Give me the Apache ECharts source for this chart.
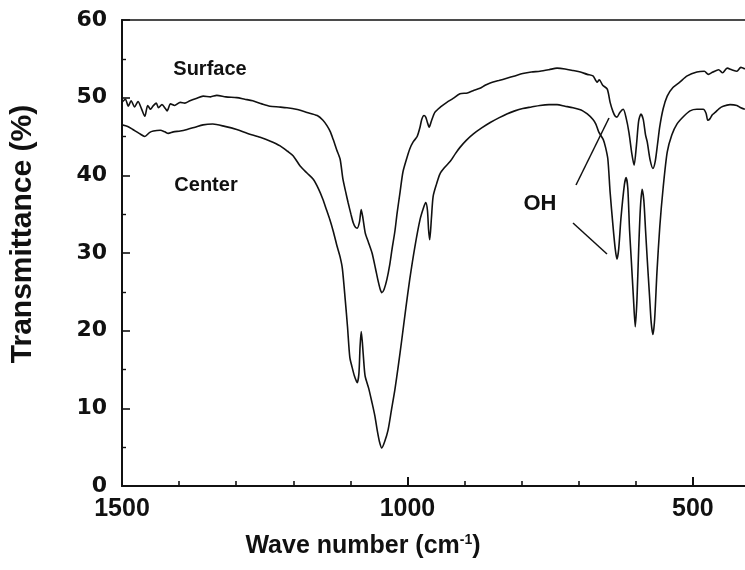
<!DOCTYPE html>
<html>
<head>
<meta charset="utf-8">
<script src="https://cdn.jsdelivr.net/npm/echarts@6/dist/echarts.min.js"></script>
<style>html,body{margin:0;padding:0;background:#fff;}#chart{width:745px;height:570px;}</style>
</head>
<body>
<div id="chart"></div>
<script>
// Wave numbers (cm-1) and transmittance (%)
const surfaceWn = [1500,1494,1489,1484,1478,1472,1466,1460,1455,1450,1446,1440,1436,1430,1424,1421,1415,1408,1398,1390,1381,1370,1358,1345,1334,1318,1299,1285,1271,1255,1241,1225,1211,1195,1176,1158,1148,1141,1135,1130,1124,1118,1113,1108,1104,1099,1095,1091,1088,1084,1081,1078,1074,1068,1062,1056,1052,1048,1045,1041,1036,1031,1027,1022,1018,1013,1008,1002,996,990,983,978,975,971,968,965,962,958,952,942,931,920,908,895,885,873,864,855,840,826,812,798,783,768,752,738,724,710,697,685,675,670,668,664,658,650,645,640,636,633,628,622,617,612,607,603,599,595,591,587,583,580,575,570,566,562,558,552,545,535,523,510,493,480,473,465,455,448,440,432,423,416,409];
const surfaceT  = [49.4,49.8,48.9,49.6,48.8,49.5,48.6,47.6,49.0,48.5,48.9,49.3,48.7,49.1,48.6,48.3,49.2,49.0,49.4,49.3,49.6,49.9,50.2,50.1,50.3,50.1,50.0,49.8,49.6,49.2,48.9,48.8,48.7,48.5,48.1,47.7,47.1,46.4,45.6,44.6,43.3,42.1,39.5,37.8,36.5,35.0,33.9,33.3,33.2,34.0,35.6,34.5,32.6,31.3,30.0,28.0,26.6,25.4,24.9,25.3,26.6,28.5,30.5,32.8,35.2,37.8,40.4,42.0,43.4,44.3,45.0,46.2,47.2,47.7,47.5,46.8,46.2,47.0,48.1,48.8,49.4,49.9,50.5,50.6,50.9,51.2,51.6,51.9,52.2,52.5,52.8,53.1,53.3,53.4,53.6,53.8,53.7,53.5,53.3,53.0,52.8,52.2,52.0,52.3,51.6,51.1,49.4,48.2,47.6,47.5,48.1,48.5,47.4,45.5,42.8,41.3,43.8,47.0,47.9,47.2,45.2,44.3,42.0,40.9,41.8,44.0,46.3,48.6,50.2,51.3,52.0,52.8,53.3,53.4,53.0,53.3,53.6,53.2,53.8,53.6,53.4,53.9,53.7];

const centerWn = [1500,1490,1481,1470,1460,1452,1445,1433,1425,1419,1410,1398,1386,1372,1358,1341,1320,1299,1280,1258,1240,1223,1210,1200,1188,1176,1165,1156,1148,1142,1136,1130,1123,1118,1114,1109,1105,1101,1097,1093,1088,1085,1083,1081,1079,1076,1074,1068,1062,1057,1053,1049,1045,1040,1034,1028,1022,1016,1010,1003,996,987,978,972,968,965,963,961,958,955,949,943,935,925,916,908,897,885,870,855,840,826,812,798,783,768,752,738,724,710,700,693,685,675,670,665,657,653,649,645,640,636,633,630,626,620,617,614,611,608,604,601,598,595,592,589,586,583,580,576,573,570,567,563,558,552,545,537,528,516,505,493,482,477,474,470,466,461,454,447,435,423,416,409];
const centerT  = [46.5,46.3,45.9,45.4,45.0,45.5,45.7,45.8,45.6,45.4,45.6,45.7,45.9,46.2,46.5,46.6,46.3,45.9,45.4,44.9,44.4,43.8,43.1,42.5,41.2,40.3,39.5,38.3,36.9,35.6,34.3,32.8,30.8,29.5,28.0,24.0,20.5,16.6,15.3,14.2,13.3,14.5,18.0,19.9,18.5,15.5,14.1,12.6,10.7,9.0,7.2,5.7,4.9,5.7,7.2,9.8,12.4,15.5,18.8,22.8,26.6,30.8,34.3,35.8,36.5,35.5,33.0,31.7,34.5,37.3,38.9,40.2,41.0,41.8,42.8,43.6,44.5,45.3,46.1,46.8,47.4,47.9,48.3,48.6,48.8,49.0,49.1,49.1,48.9,48.7,48.5,48.3,47.9,47.2,46.6,45.6,44.6,43.6,42.1,37.8,33.5,30.5,29.2,30.5,34.5,38.8,39.7,38.3,33.0,29.2,24.0,20.5,24.0,30.5,35.8,38.2,36.8,33.0,29.2,24.5,21.0,19.5,21.5,27.5,33.4,38.5,43.0,45.2,46.6,47.6,48.3,48.5,48.5,48.0,47.1,47.3,47.8,48.1,48.6,48.9,49.1,49.0,48.7,48.5];

const xTickLabels = [1500, 1000, 500];
const yTickLabels = [0, 10, 20, 30, 40, 50, 60];
const seriesNames = ['Surface', 'Center'];

function toPairs(wn, t) { return wn.map((w, i) => [-w, t[i]]); }

const chart = echarts.init(document.getElementById('chart'), null, {renderer: 'canvas'});
const lineStyle = {color: '#111', width: 1.6};
const option = {
  backgroundColor: '#fff',
  animation: false,
  grid: {left: 122, top: 20, width: 628, bottom: 84, outerBoundsMode: 'none', containLabel: false,
         show: true, borderColor: '#111', borderWidth: 1.6, backgroundColor: 'transparent'},
  xAxis: [
    {
      type: 'value', position: 'bottom', min: -1500, max: -400, interval: 500,
      axisLine: {show: true, lineStyle: {color: '#111', width: 2}},
      axisTick: {show: true, inside: true, length: 9, lineStyle: {color: '#111', width: 2}},
      axisLabel: {
        show: true, margin: 11, color: '#111',
        fontFamily: 'Liberation Sans', fontWeight: 'bold', fontSize: 25,
        formatter: v => (xTickLabels.indexOf(-v) >= 0 ? String(-v) : '')
      },
      splitLine: {show: false}
    },
    {
      type: 'value', position: 'bottom', min: -1500, max: -400, interval: 100,
      axisLine: {show: false},
      axisTick: {show: true, inside: true, length: 5, lineStyle: {color: '#111', width: 1.6}},
      axisLabel: {show: false},
      splitLine: {show: false}
    }
  ],
  yAxis: {
    type: 'value', min: 0, max: 60, interval: 10,
    axisLine: {show: true, lineStyle: {color: '#111', width: 2}},
    axisTick: {show: true, inside: true, length: 8, lineStyle: {color: '#111', width: 1.6}},
    minorTick: {show: true, splitNumber: 2, length: 4, lineStyle: {color: '#111', width: 1.4}},
    axisLabel: {
      margin: 15, color: '#111', fontFamily: 'DejaVu Sans', fontWeight: 'bold', fontSize: 22,
      formatter: v => (yTickLabels.indexOf(v) >= 0 ? String(v) : '')
    },
    splitLine: {show: false}
  },
  series: [
    {name: seriesNames[0], type: 'line', xAxisIndex: 0, data: toPairs(surfaceWn, surfaceT), showSymbol: false, symbol: 'none', smooth: 0.25, lineStyle: lineStyle},
    {name: seriesNames[1], type: 'line', xAxisIndex: 0, data: toPairs(centerWn, centerT), showSymbol: false, symbol: 'none', smooth: 0.25, lineStyle: lineStyle}
  ],
  graphic: [
    {type: 'text', x: 210, y: 69, style: {text: 'Surface', font: 'bold 20px "Liberation Sans"', fill: '#111', textAlign: 'center', textVerticalAlign: 'middle'}},
    {type: 'text', x: 206, y: 185, style: {text: 'Center', font: 'bold 20px "Liberation Sans"', fill: '#111', textAlign: 'center', textVerticalAlign: 'middle'}},
    {type: 'text', x: 540, y: 204, style: {text: 'OH', font: 'bold 22px "Liberation Sans"', fill: '#111', textAlign: 'center', textVerticalAlign: 'middle'}},
    {type: 'line', shape: {x1: 576, y1: 185, x2: 609, y2: 118}, style: {stroke: '#111', lineWidth: 1.5}},
    {type: 'line', shape: {x1: 573, y1: 223, x2: 607, y2: 254}, style: {stroke: '#111', lineWidth: 1.5}},
    {type: 'text', x: 23, y: 234, rotation: Math.PI / 2, style: {text: 'Transmittance (%)', font: 'bold 30px "Liberation Sans"', fill: '#111', textAlign: 'center', textVerticalAlign: 'middle'}},
    {type: 'text', x: 363, y: 546, style: {
      text: '{a|Wave number (cm}{s|-1}{a|)}', textAlign: 'center', textVerticalAlign: 'middle',
      rich: {
        a: {font: 'bold 25px "Liberation Sans"', fill: '#111', color: '#111'},
        s: {font: 'bold 14px "Liberation Sans"', fill: '#111', color: '#111', verticalAlign: 'top'}
      }
    }}
  ]
};
chart.setOption(option);
</script>
</body>
</html>
